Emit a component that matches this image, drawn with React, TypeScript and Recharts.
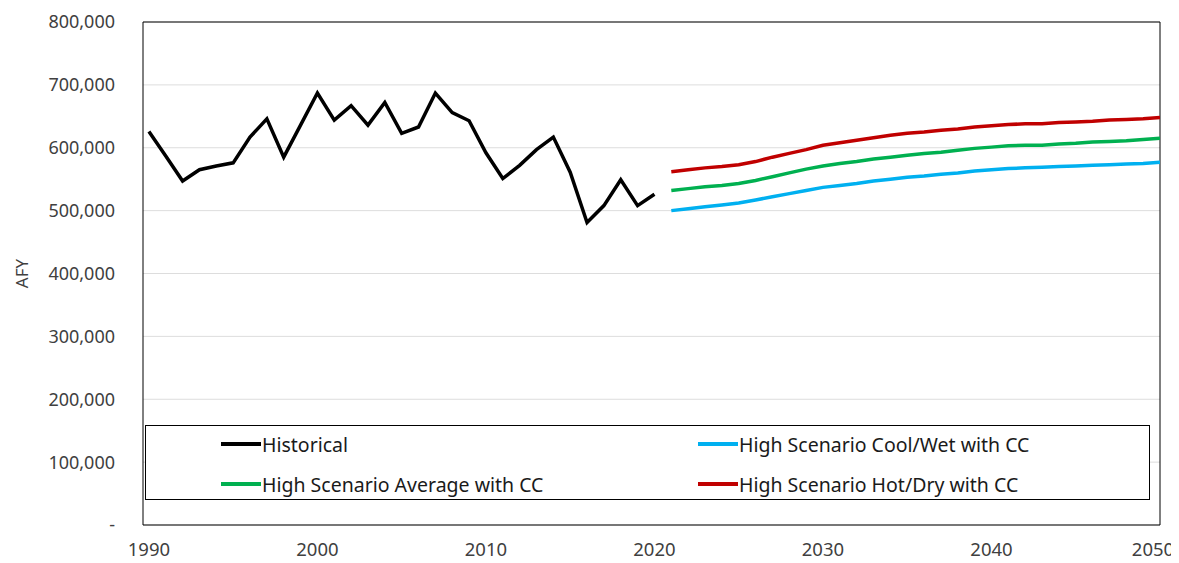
import { LineChart, Line, XAxis, YAxis, CartesianGrid, Legend, ReferenceArea } from 'recharts';

const HIST_YEARS = [1990, 1991, 1992, 1993, 1994, 1995, 1996, 1997, 1998, 1999, 2000, 2001, 2002, 2003, 2004, 2005, 2006, 2007, 2008, 2009, 2010, 2011, 2012, 2013, 2014, 2015, 2016, 2017, 2018, 2019, 2020];
const HISTORICAL = [626000, 587000, 547000, 565000, 571000, 576000, 617000, 646000, 585000, 636000, 687000, 644000, 667000, 636000, 672000, 623000, 633000, 687000, 656000, 643000, 592000, 551000, 572000, 597000, 617000, 561000, 481000, 508000, 549000, 508000, 526000];

const PROJ_YEARS = [2021, 2022, 2023, 2024, 2025, 2026, 2027, 2028, 2029, 2030, 2031, 2032, 2033, 2034, 2035, 2036, 2037, 2038, 2039, 2040, 2041, 2042, 2043, 2044, 2045, 2046, 2047, 2048, 2049, 2050];
const COOL_WET = [500000, 503000, 506000, 509000, 512000, 517000, 522000, 527000, 532000, 537000, 540000, 543000, 547000, 550000, 553000, 555000, 558000, 560000, 563000, 565000, 567000, 568000, 569000, 570000, 571000, 572000, 573000, 574000, 575000, 577000];
const AVERAGE = [532000, 535000, 538000, 540000, 543000, 548000, 554000, 560000, 566000, 571000, 575000, 578000, 582000, 585000, 588000, 591000, 593000, 596000, 599000, 601000, 603000, 604000, 604000, 606000, 607000, 609000, 610000, 611000, 613000, 615000];
const HOT_DRY = [562000, 565000, 568000, 570000, 573000, 578000, 585000, 591000, 597000, 604000, 608000, 612000, 616000, 620000, 623000, 625000, 628000, 630000, 633000, 635000, 637000, 638000, 638000, 640000, 641000, 642000, 644000, 645000, 646000, 648000];

const X_TICKS = [1990, 2000, 2010, 2020, 2030, 2040, 2050];
const Y_TICKS = [0, 100000, 200000, 300000, 400000, 500000, 600000, 700000, 800000];

const SERIES = [
  { key: 'historical', name: 'Historical', color: '#000000' },
  { key: 'coolWet', name: 'High Scenario Cool/Wet with CC', color: '#00B0F0' },
  { key: 'average', name: 'High Scenario Average with CC', color: '#00B050' },
  { key: 'hotDry', name: 'High Scenario Hot/Dry with CC', color: '#C00000' },
];

const data = [
  ...HIST_YEARS.map((year, i) => ({ year, historical: HISTORICAL[i] })),
  ...PROJ_YEARS.map((year, i) => ({ year, coolWet: COOL_WET[i], average: AVERAGE[i], hotDry: HOT_DRY[i] })),
];

const FONT = '"Noto Sans", "Open Sans", sans-serif';

function LegendBox() {
  const cell = (s: typeof SERIES[number], left: number, top: number) => (
    <div key={s.key} style={{ position: 'absolute', left, top, display: 'flex', alignItems: 'center', height: 24 }}>
      <div style={{ width: 40, height: 4, background: s.color, marginRight: 1 }} />
      <span style={{ fontSize: 19.5, color: '#1a1a1a', fontFamily: FONT, whiteSpace: 'nowrap' }}>{s.name}</span>
    </div>
  );
  return (
    <div style={{ position: 'relative', width: '100%', height: '100%' }}>
      {cell(SERIES[0], 75, 6)}
      {cell(SERIES[1], 552, 6)}
      {cell(SERIES[2], 75, 46)}
      {cell(SERIES[3], 552, 46)}
    </div>
  );
}

// Excel pulls the last year label inside the page edge
function XTick({ x, y, payload }: any) {
  return (
    <text x={Math.min(x, 1145)} y={y} dy="0.71em" textAnchor="middle" fontSize={18.5} fill="#404040" fontFamily={FONT}>
      {payload.value}
    </text>
  );
}

export default function App() {
  return (
    <LineChart width={1171} height={555} data={data} margin={{ top: 14, right: 19, bottom: 0, left: 0 }}>
      <CartesianGrid horizontal vertical={false} stroke="#DDDDDD" />
      <XAxis
        dataKey="year"
        type="number"
        domain={[1989.65, 2050]}
        ticks={X_TICKS}
        allowDataOverflow
        height={38}
        tickLine={false}
        axisLine={false}
        tickMargin={12}
        tick={<XTick />}
      />
      <YAxis
        type="number"
        domain={[0, 800000]}
        ticks={Y_TICKS}
        width={135}
        tickLine={false}
        axisLine={false}
        tickMargin={22}
        tickFormatter={(v: number) => (v === 0 ? '-' : v.toLocaleString('en-US'))}
        tick={{ fontSize: 18, fill: '#404040', fontFamily: FONT }}
        label={{ value: 'AFY', angle: -90, position: 'insideLeft', offset: 14, style: { fontSize: 17, fill: '#404040', fontFamily: FONT, textAnchor: 'middle' } }}
      />
      <ReferenceArea x1={1989.65} x2={2050} y1={0} y2={800000} fill="none" stroke="#000" strokeWidth={1} ifOverflow="visible" />
      {SERIES.map((s) => (
        <Line
          key={s.key}
          type="linear"
          dataKey={s.key}
          name={s.name}
          stroke={s.color}
          strokeWidth={3.5}
          dot={false}
          isAnimationActive={false}
          connectNulls={false}
        />
      ))}
      <Legend
        layout="horizontal"
        verticalAlign="middle"
        content={() => <LegendBox />}
        wrapperStyle={{ position: 'absolute', left: 137, top: 417, width: 1005, height: 75, border: '1px solid #000', background: '#fff', boxSizing: 'border-box' }}
      />
    </LineChart>
  );
}
